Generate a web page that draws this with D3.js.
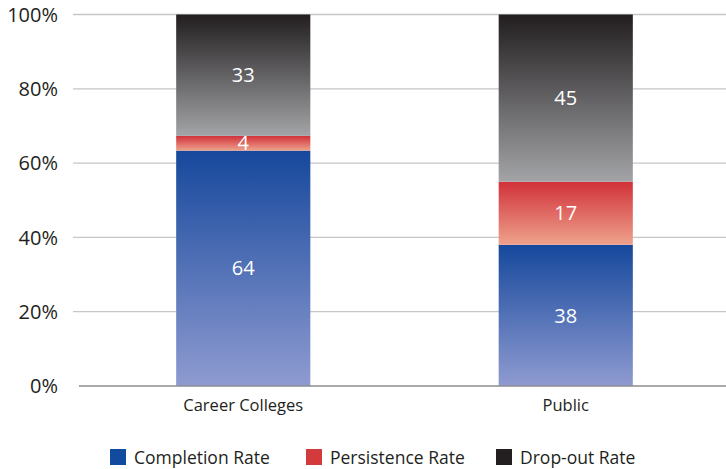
<!DOCTYPE html>
<html>
<head>
<meta charset="utf-8">
<script src="https://cdn.jsdelivr.net/npm/d3@7"></script>
<style>
  html, body { margin: 0; padding: 0; background: #fff; }
  svg { display: block; font-family: "Open Sans", "Noto Sans", sans-serif; }
</style>
</head>
<body>
<svg id="chart" width="726" height="469"></svg>
<script>
// Student outcome rates by institution type (percent)
const categories = ["Career Colleges", "Public"];
const seriesNames = ["Completion Rate", "Persistence Rate", "Drop-out Rate"];
const completion = [64, 38];
const persistence = [4, 17];
const dropout = [33, 45];
const yTickValues = [0, 0.2, 0.4, 0.6, 0.8, 1.0];

const rows = categories.map((c, i) => ({
  category: c,
  "Completion Rate": completion[i],
  "Persistence Rate": persistence[i],
  "Drop-out Rate": dropout[i]
}));

const svg = d3.select("#chart");

const x = d3.scaleBand()
  .domain(categories)
  .range([82, 727])
  .paddingInner(0.584)
  .paddingOuter(0.292);

const y = d3.scaleLinear().domain([0, 1]).range([386, 14.5]);

// Gradient ramps: darker at segment top, lighter toward the bottom
const ramps = {
  "Completion Rate": ["#16489c", "#8f9bd1"],
  "Persistence Rate": ["#d1313a", "#eea28c"],
  "Drop-out Rate": ["#221e1f", "#a3a4a7"]
};
const legendColors = {
  "Completion Rate": "#124a9e",
  "Persistence Rate": "#d33a3b",
  "Drop-out Rate": "#231f20"
};

const defs = svg.append("defs");
seriesNames.forEach((s, i) => {
  const g = defs.append("linearGradient")
    .attr("id", "grad" + i)
    .attr("x1", 0).attr("y1", 0).attr("x2", 0).attr("y2", 1);
  g.append("stop").attr("offset", "0%").attr("stop-color", ramps[s][0]);
  g.append("stop").attr("offset", "100%").attr("stop-color", ramps[s][1]);
});

// Gridlines
svg.append("g")
  .selectAll("line")
  .data(yTickValues.filter(d => d > 0))
  .join("line")
  .attr("x1", 73).attr("x2", 726)
  .attr("y1", d => y(d)).attr("y2", d => y(d))
  .attr("stroke", "#c6c6ca")
  .attr("stroke-width", 1.3);

// Y tick labels
svg.append("g")
  .selectAll("text")
  .data(yTickValues)
  .join("text")
  .attr("x", 58)
  .attr("y", d => y(d))
  .attr("dy", "0.36em")
  .attr("text-anchor", "end")
  .attr("font-size", 20)
  .attr("fill", "#231f20")
  .text(d3.format(".0%"));

// Stacked bars, normalised to 100%
const stack = d3.stack().keys(seriesNames).offset(d3.stackOffsetExpand);
const layers = stack(rows);

const layerG = svg.append("g")
  .selectAll("g")
  .data(layers)
  .join("g")
  .attr("fill", (d, i) => `url(#grad${i})`);

layerG.selectAll("rect")
  .data(d => d)
  .join("rect")
  .attr("x", d => x(d.data.category))
  .attr("width", x.bandwidth())
  .attr("y", d => y(d[1]))
  .attr("height", d => y(d[0]) - y(d[1]));

// Value labels
svg.append("g")
  .selectAll("g")
  .data(layers)
  .join("g")
  .selectAll("text")
  .data(d => d.map(p => ({ p, key: d.key })))
  .join("text")
  .attr("x", d => x(d.p.data.category) + x.bandwidth() / 2)
  .attr("y", d => (y(d.p[0]) + y(d.p[1])) / 2)
  .attr("dy", "0.36em")
  .attr("text-anchor", "middle")
  .attr("font-size", 20)
  .attr("fill", "#ffffff")
  .text(d => d.p.data[d.key]);

// Baseline
svg.append("line")
  .attr("x1", 79).attr("x2", 726)
  .attr("y1", y(0)).attr("y2", y(0))
  .attr("stroke", "#8c8c8f")
  .attr("stroke-width", 1.3);

// Category labels
svg.append("g")
  .selectAll("text")
  .data(categories)
  .join("text")
  .attr("x", d => x(d) + x.bandwidth() / 2)
  .attr("y", 411)
  .attr("text-anchor", "middle")
  .attr("font-size", 16.5)
  .attr("fill", "#231f20")
  .text(d => d);

// Legend
const legendX = [110, 306, 496];
const legend = svg.append("g")
  .selectAll("g")
  .data(seriesNames)
  .join("g")
  .attr("transform", (d, i) => `translate(${legendX[i]},449)`);
legend.append("rect")
  .attr("width", 16).attr("height", 16)
  .attr("fill", d => legendColors[d]);
legend.append("text")
  .attr("x", 24)
  .attr("y", 15)
  .attr("font-size", 17.5)
  .attr("fill", "#231f20")
  .text(d => d);
</script>
</body>
</html>
